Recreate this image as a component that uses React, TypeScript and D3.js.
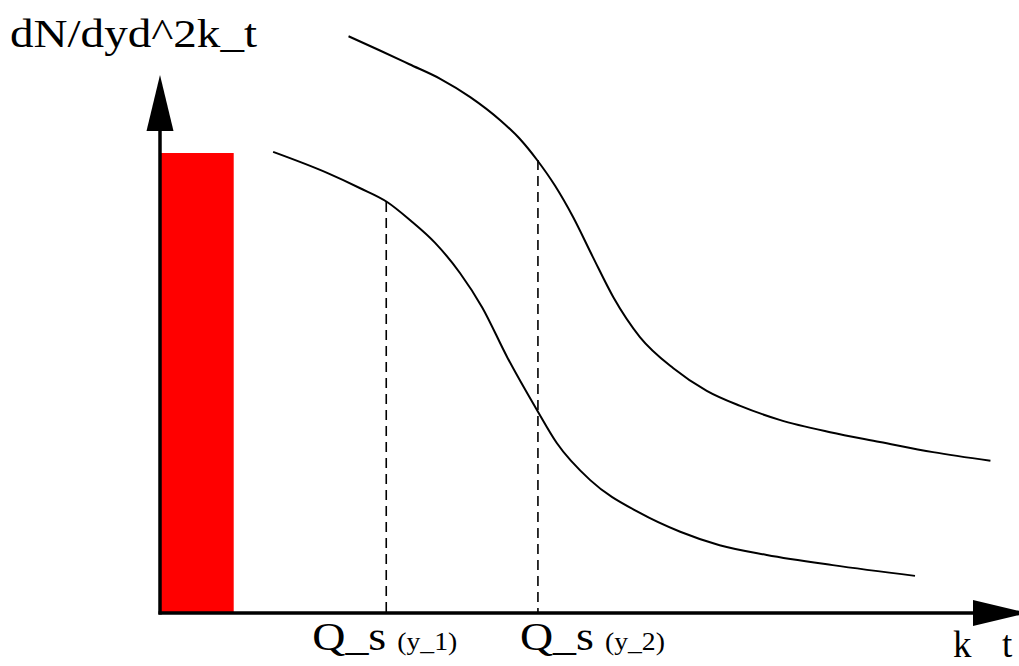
import React from "react";
import * as d3 from "d3";

// Transverse-momentum spectra at two rapidities (arbitrary units).
const ktUpper = [22.0, 25.6, 29.1, 32.7, 36.2, 39.7, 42.0, 44.0, 46.1, 48.2, 50.5, 52.9, 56.0, 59.9, 63.8, 67.7, 72.3, 78.2, 84.0, 90.2, 96.9];
const dnUpper = [107.2, 104.6, 102.0, 99.3, 95.9, 91.6, 88.1, 84.2, 79.4, 73.6, 66.2, 58.7, 51.3, 45.5, 41.3, 38.5, 35.9, 33.6, 31.8, 29.9, 28.3];

const ktLower = [13.2, 19.5, 23.3, 26.5, 29.2, 32.1, 35.0, 37.6, 40.5, 44.0, 46.3, 50.2, 56.0, 60.7, 65.3, 70.8, 78.5, 88.1];
const dnLower = [85.7, 81.8, 79.0, 76.4, 73.0, 68.8, 63.2, 56.8, 47.6, 37.7, 31.6, 24.7, 18.6, 15.1, 12.6, 10.8, 8.9, 6.9];

// Saturation scales Q_s(y_1), Q_s(y_2) and the curve heights they mark
const qsValues = [26.4, 44.1];
const qsTops = [76.4, 84.2];
const qsLabels = ["(y_1)", "(y_2)"];

// Soft region below the saturation scale
const barKt = 8.6;
const barDn = 85.5;

const W = 1019;
const H = 666;

export default function App() {
  const x = d3.scaleLinear().domain([0, 100]).range([160, 1017]);
  const y = d3.scaleLinear().domain([0, 100]).range([613, 75]);

  const upper = ktUpper.map((k, i) => [k, dnUpper[i]] as [number, number]);
  const lower = ktLower.map((k, i) => [k, dnLower[i]] as [number, number]);

  const line = d3
    .line<[number, number]>()
    .x((d) => x(d[0]))
    .y((d) => y(d[1]))
    .curve(d3.curveMonotoneX);

  const x0 = x(0);
  const y0 = y(0);
  const yArrowTip = y(100);
  const yArrowBase = yArrowTip + 56;
  const xArrowBase = 973;
  const xArrowTip = 1028;
  const font = "'Liberation Serif', Tinos, 'Times New Roman', 'DejaVu Serif', serif";
  // horizontal placement of each Q_s label relative to its dashed marker
  const labelShift = [-74, -18];

  return (
    <svg
      width={W}
      height={H}
      style={{ position: "absolute", left: 0, top: 0, background: "#fff" }}
    >
      <rect x={x0} y={y(barDn)} width={x(barKt) - x0} height={y0 - y(barDn)} fill="#ff0000" />

      {qsValues.map((q, i) => (
        <line
          key={i}
          x1={x(q)}
          x2={x(q)}
          y1={y(qsTops[i])}
          y2={y0}
          stroke="#000"
          strokeWidth={1.6}
          strokeDasharray="10 6"
        />
      ))}

      <path d={line(upper) ?? ""} fill="none" stroke="#000" strokeWidth={2} />
      <path d={line(lower) ?? ""} fill="none" stroke="#000" strokeWidth={2} />

      {/* axes */}
      <line x1={x0} x2={x0} y1={y0 + 1.5} y2={yArrowBase} stroke="#000" strokeWidth={3.5} />
      <path
        d={`M${x0},${yArrowTip} L${x0 - 13.5},${yArrowBase} L${x0 + 13.5},${yArrowBase} Z`}
        fill="#000"
      />
      <line x1={x0 - 1.5} x2={xArrowBase} y1={y0} y2={y0} stroke="#000" strokeWidth={3.5} />
      <path
        d={`M${xArrowTip},${y0} L${xArrowBase},${y0 - 13} L${xArrowBase},${y0 + 13} Z`}
        fill="#000"
      />

      <text
        x={10}
        y={47}
        fontFamily={font}
        fontSize={40}
        fill="#000"
        textLength={247}
        lengthAdjust="spacingAndGlyphs"
      >
        dN/dyd^2k_t
      </text>

      {qsValues.map((q, i) => (
        <g key={i}>
          <text
            x={x(q) + labelShift[i]}
            y={650}
            fontFamily={font}
            fontSize={40}
            fill="#000"
            textLength={74}
            lengthAdjust="spacingAndGlyphs"
          >
            Q_s
          </text>
          <text
            x={x(q) + labelShift[i] + 85}
            y={650}
            fontFamily={font}
            fontSize={25}
            fill="#000"
            textLength={60}
            lengthAdjust="spacingAndGlyphs"
          >
            {qsLabels[i]}
          </text>
        </g>
      ))}

      <text y={657} fontFamily={font} fontSize={37} fill="#000">
        <tspan x={953}>k</tspan>
        <tspan x={1002}>t</tspan>
      </text>
    </svg>
  );
}
